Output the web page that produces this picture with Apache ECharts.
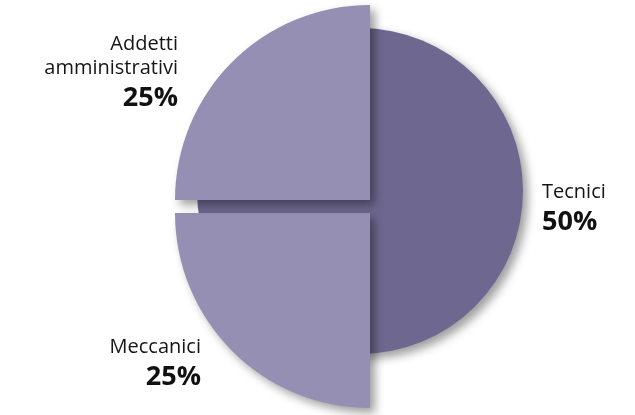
<!DOCTYPE html>
<html>
<head>
<meta charset="utf-8">
<script src="https://cdn.jsdelivr.net/npm/echarts@6/dist/echarts.min.js"></script>
<style>
  html, body { margin: 0; padding: 0; background: #fff; }
  #chart { width: 635px; height: 415px; }
</style>
</head>
<body>
<div id="chart"></div>
<script>
// data (clockwise from 12 o'clock)
const categories = ["Tecnici", "Meccanici", "Addetti amministrativi"];
const shares = [50, 25, 25];

const dark = "#6e6890";
const light = "#958fb3";
const shadow = {
  shadowBlur: 10,
  shadowColor: "rgba(0,0,0,0.38)",
  shadowOffsetX: 5,
  shadowOffsetY: 5,
};

// where each label block sits
const labelPos = {
  "Tecnici": { x: 542, y: 180, align: "left" },
  "Meccanici": { x: 201, y: 335, align: "right" },
  "Addetti amministrativi": { x: 178, y: 32, align: "right" },
};

const rich = {
  n: { fontSize: 20, lineHeight: 24, color: "#151515", fontFamily: "Open Sans" },
  v: { fontSize: 27, lineHeight: 36, fontWeight: "bold", color: "#111", fontFamily: "Open Sans" },
};

function labelFor(name) {
  const p = labelPos[name];
  return {
    show: true,
    position: "outside",
    align: p.align,
    formatter: (d) =>
      d.name.split(" ").map((w) => "{n|" + w + "}").join("\n") + "\n{v|" + d.value + "%}",
    rich: rich,
  };
}

function layout(params) {
  const p = labelPos[categories[params.dataIndex]];
  return { x: p.x, y: p.y, align: p.align, verticalAlign: "top" };
}

// one layer per drawn piece; other items stay in the ring but invisible
function layer(showName, center, radius, color) {
  const base = showName === null;
  return {
    type: "pie",
    center: center,
    radius: radius,
    startAngle: 90,
    clockwise: true,
    silent: true,
    animation: false,
    avoidLabelOverlap: false,
    labelLine: { show: false },
    labelLayout: layout,
    emphasis: { disabled: true },
    data: categories.map((c, i) => {
      const on = base || c === showName;
      // in the full dark disc only the right half casts a shadow (no seams)
      const withShadow = base ? c === "Tecnici" : on;
      return {
        name: c,
        value: shares[i],
        itemStyle: on
          ? Object.assign({ color: color, borderWidth: 0 }, withShadow ? shadow : {})
          : { color: "rgba(0,0,0,0)", borderWidth: 0 },
        label: (base ? c === "Tecnici" : on) ? labelFor(c) : { show: false },
      };
    }),
  };
}

const chart = echarts.init(document.getElementById("chart"));
chart.setOption({
  backgroundColor: "#fff",
  series: [
    layer(null, [360, 191], 163, dark),
    layer("Meccanici", [370, 213], 195, light),
    layer("Addetti amministrativi", [370, 200], 195, light),
  ],
});
window.addEventListener("resize", () => chart.resize());
</script>
</body>
</html>
